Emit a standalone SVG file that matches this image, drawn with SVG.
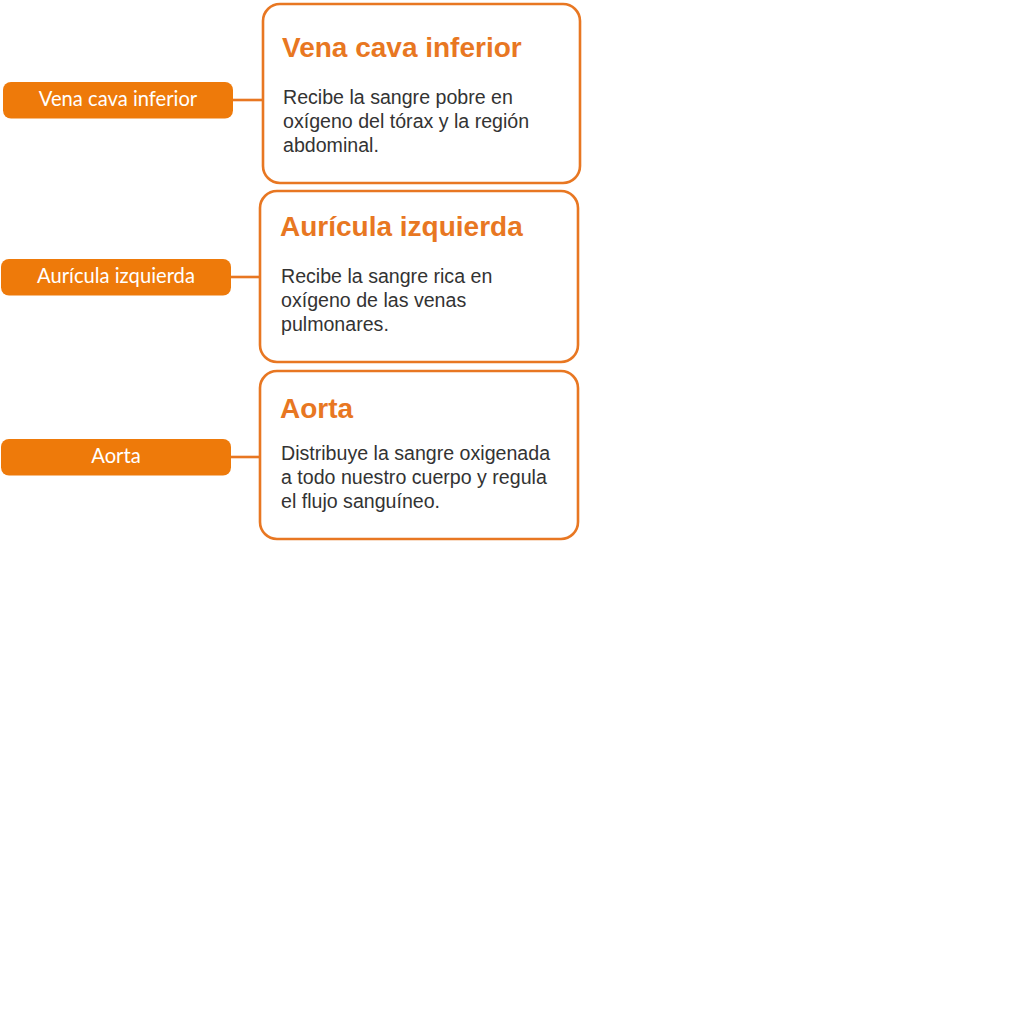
<svg xmlns="http://www.w3.org/2000/svg" width="1024" height="1024" viewBox="0 0 1024 1024">
<style>
.card{fill:#fff;stroke:#E87722;stroke-width:2.6}
.pill{fill:#EE7A0A}
.plabel{font-family:Lato,"Liberation Sans",sans-serif;font-size:20.2px;fill:#fff;text-anchor:middle}
.title{font-family:"Liberation Sans",Arial,sans-serif;font-size:28px;font-weight:bold;fill:#E87722}
.body{font-family:"Liberation Sans",Arial,sans-serif;font-size:19.6px;fill:#333}
.conn{stroke:#E87722;stroke-width:2.6;fill:none}
</style>
<rect width="1024" height="1024" fill="#fff"/>
<g id="connectors">
<line class="conn" x1="232" y1="100" x2="263" y2="100"/>
<line class="conn" x1="230" y1="277" x2="260" y2="277"/>
<line class="conn" x1="230" y1="457" x2="260" y2="457"/>
</g>
<g id="pill-vena">
<rect class="pill" x="3" y="82" width="230" height="36.5" rx="8"/>
<text class="plabel" x="118" y="106">Vena cava inferior</text>
</g>
<g id="card-vena">
<rect class="card" x="263" y="4" width="317" height="179" rx="17"/>
<text class="title" x="282" y="57">Vena cava inferior</text>
<text class="body" x="283" y="104">Recibe la sangre pobre en</text>
<text class="body" x="283" y="128">oxígeno del tórax y la región</text>
<text class="body" x="283" y="152">abdominal.</text>
</g>
<g id="pill-auricula">
<rect class="pill" x="1" y="259" width="230" height="36.5" rx="8"/>
<text class="plabel" x="116" y="283">Aurícula izquierda</text>
</g>
<g id="card-auricula">
<rect class="card" x="260" y="191" width="318" height="171" rx="17"/>
<text class="title" x="280" y="236">Aurícula izquierda</text>
<text class="body" x="281" y="283">Recibe la sangre rica en</text>
<text class="body" x="281" y="307">oxígeno de las venas</text>
<text class="body" x="281" y="331">pulmonares.</text>
</g>
<g id="pill-aorta">
<rect class="pill" x="1" y="439" width="230" height="36.5" rx="8"/>
<text class="plabel" x="116" y="463">Aorta</text>
</g>
<g id="card-aorta">
<rect class="card" x="260" y="371" width="318" height="168" rx="17"/>
<text class="title" x="280" y="418">Aorta</text>
<text class="body" x="281" y="460">Distribuye la sangre oxigenada</text>
<text class="body" x="281" y="484">a todo nuestro cuerpo y regula</text>
<text class="body" x="281" y="508">el flujo sanguíneo.</text>
</g>
</svg>
